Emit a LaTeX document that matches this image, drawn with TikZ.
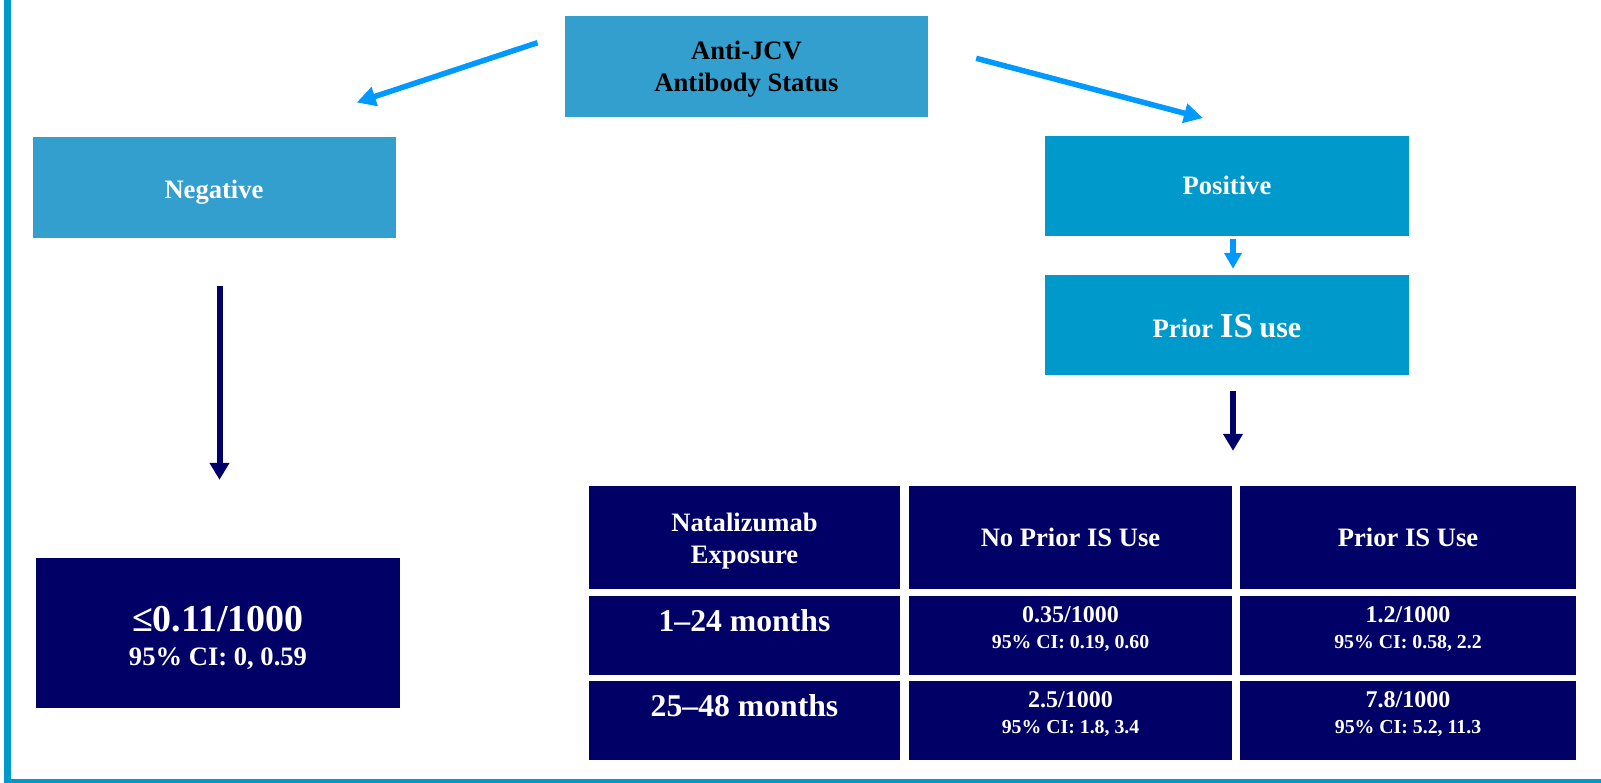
\documentclass[tikz,border=0pt]{standalone}
\usepackage{fontspec}
\setmainfont{Liberation Serif}
\usetikzlibrary{arrows.meta}
\definecolor{jcvblue}{HTML}{339FCF}
\definecolor{posblue}{HTML}{0099CC}
\definecolor{arrowblue}{HTML}{0099FF}
\definecolor{navy}{HTML}{000066}
\newcommand{\fsHead}{\fontsize{26.6}{31.7}\selectfont}
\newcommand{\fsBig}{\fontsize{38}{33.3}\selectfont}
\newcommand{\fsMonth}{\fontsize{31.7}{31.7}\selectfont}
\newcommand{\fsRate}{\fontsize{24}{26}\selectfont}
\newcommand{\fsCI}{\fontsize{19.8}{26}\selectfont}
\begin{document}
\begin{tikzpicture}[x=1pt, y=-1pt, every node/.style={rectangle, inner sep=0pt, align=center, text=white, font=\bfseries\fsHead}]
	\tikzstyle{lightbox} = [fill=jcvblue, minimum width=363pt]
	\tikzstyle{tealbox} = [fill=posblue, minimum width=364pt]
	\tikzstyle{navybox} = [fill=navy, minimum width=364pt]
	\tikzstyle{headcell} = [fill=navy, text height=60.7pt, text depth=42.3pt]
	\tikzstyle{monthcell} = [fill=navy, font=\bfseries\fsMonth, text height=35.7pt, text depth=43.3pt]
	\tikzstyle{ratecell} = [fill=navy, font=\bfseries\fsRate, text height=52.3pt, text depth=26.7pt]
	\tikzstyle{lightarrow} = [draw=arrowblue, line width=5.5pt, -{Triangle[length=19pt,width=19pt]}]
	\tikzstyle{smallarrow} = [draw=arrowblue, line width=6.5pt, -{Triangle[length=16pt,width=17pt]}]
	\tikzstyle{darkarrow} = [draw=navy, line width=6pt, -{Triangle[length=17pt,width=19pt]}]
	
	\useasboundingbox (0,0) rectangle (1601,783);
	\fill[posblue] (4,0) rectangle (11,783);
	\fill[posblue] (4,779) rectangle (1601,783);
	
	\node[lightbox, text=black, text height=75.7pt, text depth=25.3pt] (status) at (746.5,66.5) {Anti-JCV\\Antibody Status};
	\node[lightbox, text height=61.3pt, text depth=39.7pt] (negative) at (214,187.5) {Negative};
	\node[tealbox, text height=59pt, text depth=41pt] (positive) at (1227,186) {Positive};
	\node[tealbox, text height=62.3pt, text depth=37.7pt, node distance=139pt] (prior) [below of=positive] {Prior {\fontsize{35}{35}\selectfont IS} {\fontsize{30}{30}\selectfont use}};
	\node[navybox, text height=107pt, text depth=43pt, font=\bfseries\fsBig] (result) at (218,633) {{\fsBig ≤0.11/1000}\\{\fsHead 95\% CI: 0, 0.59}};
	
	% table
	\node[headcell, minimum width=311pt, text height=77.3pt, text depth=25.7pt] (n11) at (744.5,537.5) {Natalizumab\\Exposure};
	\node[headcell, minimum width=323pt] (n12) at (1070.5,537.5) {No Prior IS Use};
	\node[headcell, minimum width=336pt] (n13) at (1408,537.5) {Prior IS Use};
	\node[monthcell, minimum width=311pt, node distance=98pt] (n21) [below of=n11] {1–24 months};
	\node[ratecell, minimum width=323pt, node distance=98pt] (n22) [below of=n12] {0.35/1000\\{\fsCI 95\% CI: 0.19, 0.60}};
	\node[ratecell, minimum width=336pt, node distance=98pt] (n23) [below of=n13] {1.2/1000\\{\fsCI 95\% CI: 0.58, 2.2}};
	\node[monthcell, minimum width=311pt, node distance=85pt] (n31) [below of=n21] {25–48 months};
	\node[ratecell, minimum width=323pt, node distance=85pt] (n32) [below of=n22] {2.5/1000\\{\fsCI 95\% CI: 1.8, 3.4}};
	\node[ratecell, minimum width=336pt, node distance=85pt] (n33) [below of=n23] {7.8/1000\\{\fsCI 95\% CI: 5.2, 11.3}};
	
	\draw[lightarrow] ([shift={(-27.3,-23.8)}]status.west) -- ([shift={(142.7,-34.3)}]negative.north);
	\draw[lightarrow] ([shift={(48,-8.2)}]status.east) -- ([shift={(-24,-17.7)}]positive.north);
	\draw[smallarrow, shorten <=3pt, shorten >=6pt] ([xshift=6pt]positive.south) -- ([xshift=6pt]prior.north);
	\draw[darkarrow, shorten <=16pt, shorten >=35pt] ([xshift=6pt]prior.south) -- ([xshift=6pt]prior.south |- n12.north);
	\draw[darkarrow, shorten <=48pt, shorten >=78pt] ([xshift=5.5pt]negative.south) -- ([xshift=5.5pt]negative.south |- result.north);
\end{tikzpicture}
\end{document}
